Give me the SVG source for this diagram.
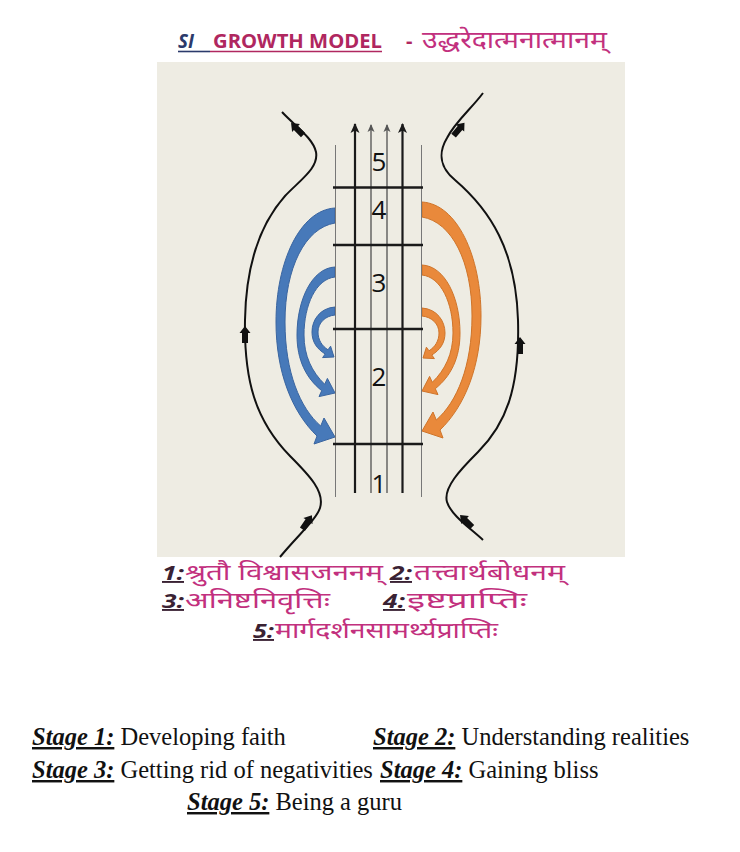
<svg xmlns="http://www.w3.org/2000/svg" width="740" height="852" viewBox="0 0 740 852">
<style>
.title{font-family:"Open Sans","Noto Sans","Liberation Sans",sans-serif;font-weight:bold;font-size:20px}
.deva{font-family:"Noto Sans Devanagari","Lohit Devanagari","Mangal","FreeSans","Noto Sans",sans-serif;fill:#c2307e}
.lbl{font-family:"Open Sans","Noto Sans","Liberation Sans",sans-serif;font-weight:bold;font-style:italic;font-size:19px;fill:#3a2233;text-decoration:underline}
.eng{font-family:"Liberation Serif","Times New Roman",serif;font-size:24.5px;fill:#111}
.stg{font-weight:bold;font-style:italic;text-decoration:underline}
.num{font-family:"Open Sans","Noto Sans","Liberation Sans",sans-serif;font-size:26px;fill:#111;text-anchor:middle}
.curve{fill:none;stroke:#111;stroke-width:2}
.blue{fill:#4779b9;stroke:#3a65a0;stroke-width:1}
.orange{fill:#e9893b;stroke:#cf7429;stroke-width:1}
.thick{stroke:#1a1a1a;stroke-width:2.2;fill:none}
.thin{stroke:#444;stroke-width:1.2;fill:none}
.edge{stroke:#777;stroke-width:1;fill:none}
.hline{stroke:#1a1a1a;stroke-width:2.4}
</style>
<defs>
<marker id="ahThick" markerUnits="userSpaceOnUse" markerWidth="12" markerHeight="12" refX="9" refY="5" orient="auto">
<path d="M0,0.5 L10,5 L0,9.5 L2.5,5 Z" fill="#1a1a1a"/>
</marker>
<marker id="ahThin" markerUnits="userSpaceOnUse" markerWidth="10" markerHeight="10" refX="7" refY="4" orient="auto">
<path d="M0,0.5 L8,4 L0,7.5 L2,4 Z" fill="#555"/>
</marker>
<path id="blk" d="M7,0 L0,-5.5 L0,-3 L-10,-3 L-10,3 L0,3 L0,5.5 Z" fill="#111"/>
<path id="bOuter" d="M335,208 C300,210 276,262 276,322 C276,372 292,412 317,436 L314,444 L335,437 L324,418 L320.7,426 C300,408 285,372 285,322 C285,268 305,228 335,223 Z"/>
<path id="bMid" d="M335,267 C312,268 297,300 297,335 C297,360 306,378 321.7,390.7 L319,396.6 L335,393 L327.4,378.4 L324.7,384.3 C312,372 304,356 304,335 C304,305 316,279 335,277 Z"/>
<path id="bInner" d="M335,307 C320,308 312,320 312,332 C312,342 317,349 325.2,354 L322.6,357.6 L334,357 L330.6,346.2 L328,349.8 C322,346 318,340 318,332 C318,323 325,316 335,315 Z"/>
</defs>

<rect id="bg" x="157" y="62" width="468" height="495" fill="#eeece3"/>

<g id="title">
<text class="title" x="178" y="47.5" fill="#2b3a6b" font-style="italic" textLength="16" lengthAdjust="spacingAndGlyphs">SI</text>
<text class="title" x="213" y="47.5" fill="#b0275f" textLength="169" lengthAdjust="spacingAndGlyphs">GROWTH MODEL</text>
<text class="title" x="406" y="47.5" fill="#b0275f">-</text>
<line x1="178" y1="51.5" x2="210" y2="51.5" stroke="#2b3a6b" stroke-width="1.6"/>
<line x1="210" y1="51.5" x2="382" y2="51.5" stroke="#b0275f" stroke-width="1.6"/>
<text class="deva" x="422" y="48" font-size="24" textLength="185" lengthAdjust="spacingAndGlyphs">उद्धरेदात्मनात्मानम्</text>
</g>

<g id="connectors">
<path class="curve" d="M282,112 C295,126 313,138 316,152 C319,168 300,180 285,196 C262,222 246,262 245,320 C244,380 255,420 290,456 C310,476 325,492 320,508 C316,520 298,535 280,557"/>
<path class="curve" d="M483,93 C472,108 455,122 447,138 C438,153 440,168 455,180 C490,210 516,250 518,320 C520,390 505,425 478,452 C460,470 443,488 447,502 C451,515 470,528 483,540"/>
<use href="#blk" transform="translate(296,128) rotate(-135)"/>
<use href="#blk" transform="translate(245,333) rotate(-90)"/>
<use href="#blk" transform="translate(308,521) rotate(-56)"/>
<use href="#blk" transform="translate(460,128) rotate(-50)"/>
<use href="#blk" transform="translate(520,344) rotate(-90)"/>
<use href="#blk" transform="translate(465,520) rotate(-135)"/>
</g>

<g id="spirals">
<use href="#bOuter" class="blue"/>
<use href="#bMid" class="blue"/>
<use href="#bInner" class="blue"/>
<use href="#bOuter" class="orange" transform="matrix(-1 0 0 1 757 -6)"/>
<use href="#bMid" class="orange" transform="matrix(-1 0 0 1 757 -2)"/>
<use href="#bInner" class="orange" transform="matrix(-1 0 0 1 757 1)"/>
</g>

<g id="column">
<line class="edge" x1="335.5" y1="145" x2="335.5" y2="497"/>
<line class="edge" x1="421.5" y1="145" x2="421.5" y2="497"/>
<line class="thick" x1="355" y1="493" x2="355" y2="124" marker-end="url(#ahThick)"/>
<line class="thick" x1="402.5" y1="493" x2="402.5" y2="124" marker-end="url(#ahThick)"/>
<line class="thin" x1="371" y1="493" x2="371" y2="125" marker-end="url(#ahThin)"/>
<line class="thin" x1="387" y1="493" x2="387" y2="125" marker-end="url(#ahThin)"/>
<line class="hline" x1="333" y1="187.5" x2="423" y2="187.5"/>
<line class="hline" x1="333" y1="245" x2="423" y2="245"/>
<line class="hline" x1="333" y1="329" x2="423" y2="329"/>
<line class="hline" x1="333" y1="444" x2="423" y2="444"/>
</g>

<g id="stages">
<text class="num" x="379" y="171">5</text>
<text class="num" x="379" y="219">4</text>
<text class="num" x="379" y="292">3</text>
<text class="num" x="379" y="386">2</text>
<text class="num" x="379" y="493">1</text>
</g>

<g id="sanskrit">
<text class="lbl" x="162" y="580" textLength="22" lengthAdjust="spacingAndGlyphs">1:</text>
<text class="deva" x="185" y="580" font-size="22" textLength="198" lengthAdjust="spacingAndGlyphs">श्रुतौ विश्वासजननम्</text>
<text class="lbl" x="390" y="580" textLength="22" lengthAdjust="spacingAndGlyphs">2:</text>
<text class="deva" x="414" y="580" font-size="22" textLength="151" lengthAdjust="spacingAndGlyphs">तत्त्वार्थबोधनम्</text>
<text class="lbl" x="162" y="608" textLength="22" lengthAdjust="spacingAndGlyphs">3:</text>
<text class="deva" x="185" y="608" font-size="22" textLength="145" lengthAdjust="spacingAndGlyphs">अनिष्टनिवृत्तिः</text>
<text class="lbl" x="383" y="608" textLength="22" lengthAdjust="spacingAndGlyphs">4:</text>
<text class="deva" x="407" y="608" font-size="22" textLength="120" lengthAdjust="spacingAndGlyphs">इष्टप्राप्तिः</text>
<text class="lbl" x="253" y="638" textLength="21" lengthAdjust="spacingAndGlyphs">5:</text>
<text class="deva" x="275" y="638" font-size="22" textLength="223" lengthAdjust="spacingAndGlyphs">मार्गदर्शनसामर्थ्यप्राप्तिः</text>
</g>

<g id="english">
<text class="eng" y="745"><tspan x="32" class="stg">Stage 1:</tspan><tspan> Developing faith</tspan><tspan x="373" class="stg">Stage 2:</tspan><tspan> Understanding realities</tspan></text>
<text class="eng" y="778"><tspan x="32" class="stg">Stage 3:</tspan><tspan> Getting rid of negativities </tspan><tspan x="380" class="stg">Stage 4:</tspan><tspan> Gaining bliss</tspan></text>
<text class="eng" y="810"><tspan x="187" class="stg">Stage 5:</tspan><tspan> Being a guru</tspan></text>
</g>
</svg>
